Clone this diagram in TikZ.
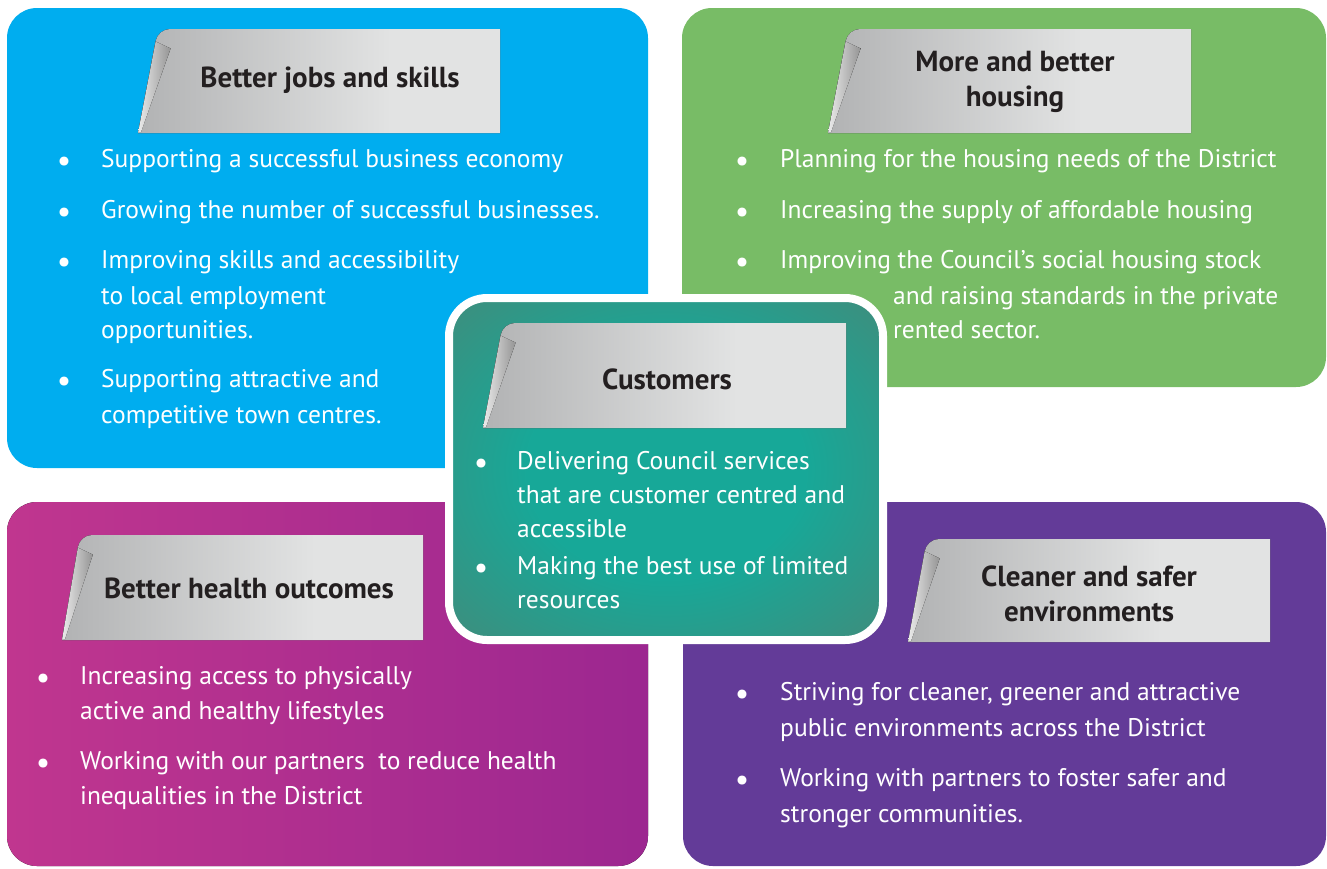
\documentclass[tikz,border=0pt]{standalone}
\usepackage{fontspec}
\setmainfont{PT Sans}
\usetikzlibrary{calc}
\definecolor{cblue}{HTML}{00ADEF}
\definecolor{cgreen}{HTML}{78BC66}
\definecolor{cmagL}{HTML}{C0368F}
\definecolor{cmagR}{HTML}{9C2790}
\definecolor{cpurple}{HTML}{633B98}
\definecolor{ctealin}{HTML}{17A898}
\definecolor{ctealout}{HTML}{4C8473}
\definecolor{bandark}{HTML}{8A8B8D}
\definecolor{banlight}{HTML}{E2E3E3}
\definecolor{titlecol}{HTML}{231F20}
\pgfdeclarehorizontalshading{banshade}{100bp}{color(0bp)=(bandark); color(25bp)=(bandark!55!banlight); color(60bp)=(banlight); color(100bp)=(banlight)}
\pgfdeclareradialshading{tealshade}{\pgfpoint{0bp}{0bp}}{color(0bp)=(ctealin); color(16bp)=(ctealin); color(42bp)=(ctealout); color(100bp)=(ctealout)}
\tikzset{
  body/.style={font=\fontsize{25.5}{30}\selectfont, text=white, inner sep=0pt, anchor=mid west},
  bul/.style={font=\fontsize{32}{34}\selectfont, text=white, inner sep=0pt, anchor=mid},
  title/.style={font=\bfseries\fontsize{29}{35}\selectfont, text=titlecol, align=center, inner sep=0pt},
  panel/.style={rounded corners=30pt},
}
% name, x top-left, x bottom-left, x right, y top, y bottom
\newcommand\mybanner[6]{%
  \fill[shading=banshade] (#3,#6) [rounded corners=12pt] -- (#2,#5) [sharp corners] -- (#4,#5) -- (#4,#6) -- cycle;
  \fill[left color=white!92!black, right color=black!42]
    ($(#2,#5)!0.12!(#3,#6)$) -- ++(15,7) -- ($(#3,#6)+(3,-1)$) -- ($(#2,#5)!0.99!(#3,#6)$) -- cycle;
  \coordinate (#1) at ($(#3,#6)!0.5!(#4,#5)$);
}
\newcommand\bulletline[5]{% name bulletx textx y text
  \node[bul] (#1b) at (#2,#4+9) {\textbullet};
  \node[body] (#1) at (#3,#4+5) {#5};
}
\newcommand\contline[4]{% name x y text
  \node[body] (#1) at (#2,#3+5) {#4};
}
\begin{document}
\begin{tikzpicture}[x=1pt,y=-1pt]
\useasboundingbox (0,0) rectangle (1327,868);
% panels
\fill[cblue,panel] (7,8) rectangle (648,468);
\fill[cgreen,panel] (682,8) rectangle (1326,387);
\fill[left color=cmagL,right color=cmagR,panel] (7,502) rectangle (648,866);
\fill[cpurple,panel] (683,502) rectangle (1326,866);

% blue panel
\mybanner{ban1}{158}{138}{500}{29}{133}
\node[title] (t1) at (330,80) {Better jobs and skills};
\bulletline{a1}{64}{101}{160}{Supporting a successful business economy}
\bulletline{a2}{64}{101}{211}{Growing the number of successful businesses.}
\bulletline{a3}{64}{101}{261}{Improving skills and accessibility}
\contline{a3b}{101}{297}{to local employment}
\contline{a3c}{101}{331}{opportunities.}
\bulletline{a4}{64}{101}{380}{Supporting attractive and}
\contline{a4b}{101}{416}{competitive town centres.}

% green panel
\mybanner{ban2}{848}{828}{1191}{29}{133}
\node[title] (t2) at (1015,82) {More and better\\housing};
\bulletline{g1}{742}{780}{160}{Planning for the housing needs of the District}
\bulletline{g2}{742}{780}{211}{Increasing the supply of affordable housing}
\bulletline{g3}{742}{780}{261}{Improving the Council’s social housing stock}
\contline{g3b}{893}{297}{and raising standards in the private}
\contline{g3c}{893}{331}{rented sector.}

% magenta panel
\mybanner{ban3}{80}{62}{423}{535}{640}
\node[title] (t3) at (249,588) {Better health outcomes};
\bulletline{m1}{43}{80}{677}{Increasing access to physically}
\contline{m1b}{80}{712}{active and healthy lifestyles}
\bulletline{m2}{43}{80}{762}{Working with our partners\ \ to reduce health}
\contline{m2b}{80}{797}{inequalities in the District}

% purple panel
\mybanner{ban4}{927}{908}{1270}{539}{642}
\node[title] (t4) at (1089,594) {Cleaner and safer\\environments};
\bulletline{p1}{742}{780}{693}{Striving for cleaner, greener and attractive}
\contline{p1b}{780}{729}{public environments across the District}
\bulletline{p2}{742}{780}{779}{Working with partners to foster safer and}
\contline{p2b}{780}{815}{stronger communities.}

% centre panel
\fill[shading=tealshade, rounded corners=38pt] (449,298) rectangle (883,640);
\draw[white, line width=8pt, rounded corners=38pt] (449,298) rectangle (883,640);
\mybanner{ban5}{503}{483}{846}{323}{428}
\node[title] (t5) at (667,379) {Customers};
\bulletline{c1}{481}{517}{462}{Delivering Council services}
\contline{c1b}{517}{496}{that are customer centred and}
\contline{c1c}{517}{530}{accessible}
\bulletline{c2}{481}{517}{567}{Making the best use of limited}
\contline{c2b}{517}{601}{resources}
\end{tikzpicture}
\end{document}
